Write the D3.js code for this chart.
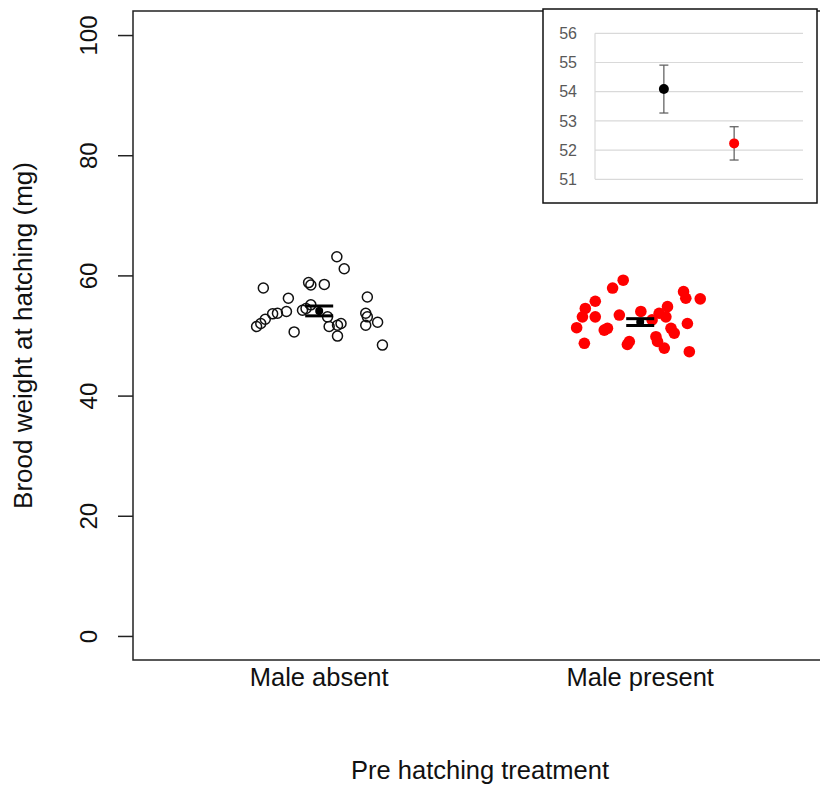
<!DOCTYPE html>
<html lang="en">
<head>
    <meta charset="UTF-8">
    <title>Brood weight at hatching</title>
    <script src="https://cdn.jsdelivr.net/npm/d3@7"></script>
    <style>
        body{
            margin:0;
            background-color:#ffffff;
        }
        text{
            font-family:"Liberation Sans", Arial, sans-serif;
        }
    </style>
</head>
<body>

<script type="text/javascript">

            // treatments
            var categories = ["Male absent", "Male present"];

            // brood weights (mg), male absent, with the jitter offset seen on the plot
            var absentValues = [63.1, 61.1, 57.9, 58.8, 58.4, 58.5, 56.2, 56.4, 54.0, 53.7,
                                53.6, 52.7, 52.0, 51.5, 50.6, 54.2, 54.5, 55.1, 53.7, 53.1,
                                51.7, 52.2, 53.1, 51.5, 52.0, 51.7, 49.9, 48.4];
            var absentJitter = [0.055, 0.078, -0.174, -0.033, -0.026, 0.016, -0.096, 0.150, -0.102, -0.130,
                                -0.145, -0.168, -0.182, -0.195, -0.078, -0.052, -0.041, -0.026, 0.145, 0.150,
                                0.145, 0.182, 0.026, 0.031, 0.068, 0.057, 0.057, 0.197];

            // brood weights (mg), male present
            var presentValues = [59.2, 57.9, 57.3, 56.2, 56.1, 55.7, 54.5, 53.1, 53.1, 53.4,
                                 51.3, 54.0, 54.8, 53.7, 53.1, 51.2, 50.9, 52.0, 51.2, 50.4,
                                 49.8, 49.0, 48.7, 49.0, 48.5, 47.9, 47.3, 52.6];
            var presentJitter = [-0.053, -0.086, 0.135, 0.142, 0.187, -0.140, -0.171, -0.180, -0.140, -0.065,
                                 -0.198, 0.002, 0.085, 0.059, 0.080, -0.102, -0.112, 0.147, 0.096, 0.106,
                                 0.049, 0.054, -0.174, -0.034, -0.040, 0.075, 0.153, 0.037];

            // group means and standard errors
            var means = [54.09, 52.23];
            var ses = [0.82, 0.57];

            var yTicks = [0, 20, 40, 60, 80, 100];
            var insetTicks = [51, 52, 53, 54, 55, 56];

            var w = 820;
            var h = 789;

            var svg = d3.select("body")
                        .append("svg")
                        .attr("width", w)
                        .attr("height", h);

            // main plot scales (box runs off the right edge like the original)
            var xScale = d3.scaleLinear()
                            .domain([0.42, 2.58])
                            .range([133, 826.4]);

            var yScale = d3.scaleLinear()
                            .domain([-4, 104])
                            .range([660, 11]);

            //box
            svg.append("rect")
               .attr("x", 133)
               .attr("y", 11)
               .attr("width", 720)
               .attr("height", 649)
               .attr("fill", "none")
               .attr("stroke", "#222")
               .attr("stroke-width", 1.5);

            //y axis
            var yAxis = svg.append("g")
                           .attr("transform", "translate(133,0)")
                           .call(d3.axisLeft(yScale).tickValues(yTicks).tickSize(15));
            yAxis.select(".domain").remove();
            yAxis.selectAll(".tick line")
                 .attr("stroke", "#222")
                 .attr("stroke-width", 1.5);
            yAxis.selectAll(".tick text")
                 .attr("x", null)
                 .attr("dy", null)
                 .attr("transform", "translate(-36,0) rotate(-90)")
                 .attr("text-anchor", "middle")
                 .attr("font-family", "Liberation Sans, Arial, sans-serif")
                 .attr("font-size", "24px")
                 .attr("fill", "#111");

            //category labels
            svg.selectAll(".catLabel")
               .data(categories)
               .enter()
               .append("text")
               .attr("class", "catLabel")
               .text(function(d) { return d; })
               .attr("x", function(d, i) { return xScale(i + 1); })
               .attr("y", 686)
               .attr("text-anchor", "middle")
               .attr("font-size", "25.5px")
               .attr("fill", "#111");

            //axis titles
            svg.append("text")
               .text("Pre hatching treatment")
               .attr("x", 480)
               .attr("y", 779)
               .attr("text-anchor", "middle")
               .attr("font-size", "25.5px")
               .attr("fill", "#111");

            svg.append("text")
               .text("Brood weight at hatching (mg)")
               .attr("transform", "translate(32," + ((11 + 660) / 2) + ") rotate(-90)")
               .attr("text-anchor", "middle")
               .attr("font-size", "26px")
               .attr("fill", "#111");

            //points, male absent (open circles)
            svg.selectAll(".absent")
               .data(absentValues)
               .enter()
               .append("circle")
               .attr("class", "absent")
               .attr("cx", function(d, i) { return xScale(1 + absentJitter[i]); })
               .attr("cy", function(d) { return yScale(d); })
               .attr("r", 5)
               .attr("fill", "none")
               .attr("stroke", "#111")
               .attr("stroke-width", 1.5);

            //points, male present (red dots)
            svg.selectAll(".present")
               .data(presentValues)
               .enter()
               .append("circle")
               .attr("class", "present")
               .attr("cx", function(d, i) { return xScale(2 + presentJitter[i]); })
               .attr("cy", function(d) { return yScale(d); })
               .attr("r", 5.8)
               .attr("fill", "#ff0000");

            //mean and se bars
            var meanG = svg.selectAll(".meanBar")
               .data(means)
               .enter()
               .append("g")
               .attr("class", "meanBar")
               .attr("transform", function(d, i) { return "translate(" + xScale(i + 1) + ",0)"; });

            meanG.append("line")
               .attr("x1", 0).attr("x2", 0)
               .attr("y1", function(d, i) { return yScale(d + ses[i]); })
               .attr("y2", function(d, i) { return yScale(d - ses[i]); })
               .attr("stroke", "#000")
               .attr("stroke-width", 3);
            meanG.append("line")
               .attr("x1", -14).attr("x2", 14)
               .attr("y1", function(d, i) { return yScale(d + ses[i]); })
               .attr("y2", function(d, i) { return yScale(d + ses[i]); })
               .attr("stroke", "#000")
               .attr("stroke-width", 3);
            meanG.append("line")
               .attr("x1", -14).attr("x2", 14)
               .attr("y1", function(d, i) { return yScale(d - ses[i]); })
               .attr("y2", function(d, i) { return yScale(d - ses[i]); })
               .attr("stroke", "#000")
               .attr("stroke-width", 3);
            meanG.append("circle")
               .attr("cx", 0)
               .attr("cy", function(d) { return yScale(d); })
               .attr("r", 4)
               .attr("fill", "#000");

            //inset
            var inset = svg.append("g");
            inset.append("rect")
               .attr("x", 543)
               .attr("y", 9)
               .attr("width", 274)
               .attr("height", 194)
               .attr("fill", "#fff")
               .attr("stroke", "#111")
               .attr("stroke-width", 1.5);

            var ix = d3.scalePoint()
                       .domain(categories)
                       .range([595, 803])
                       .padding(0.98);
            var iy = d3.scaleLinear()
                       .domain([51, 56])
                       .range([179.3, 33.3]);

            inset.selectAll(".grid")
               .data(insetTicks)
               .enter()
               .append("line")
               .attr("class", "grid")
               .attr("x1", 595).attr("x2", 803)
               .attr("y1", function(d) { return iy(d); })
               .attr("y2", function(d) { return iy(d); })
               .attr("stroke", "#d9d9d9")
               .attr("stroke-width", 1.2);
            inset.append("line")
               .attr("x1", 595).attr("x2", 595)
               .attr("y1", iy(56)).attr("y2", iy(51))
               .attr("stroke", "#d9d9d9")
               .attr("stroke-width", 1.2);

            inset.selectAll(".itick")
               .data(insetTicks)
               .enter()
               .append("text")
               .attr("class", "itick")
               .text(function(d) { return d; })
               .attr("x", 577)
               .attr("y", function(d) { return iy(d); })
               .attr("dy", "0.35em")
               .attr("text-anchor", "end")
               .attr("font-size", "16px")
               .attr("fill", "#595959");

            var insetColors = ["#000000", "#ff0000"];
            var ig = inset.selectAll(".ibar")
               .data(means)
               .enter()
               .append("g")
               .attr("class", "ibar")
               .attr("transform", function(d, i) { return "translate(" + ix(categories[i]) + ",0)"; });
            ig.append("line")
               .attr("x1", 0).attr("x2", 0)
               .attr("y1", function(d, i) { return iy(d + ses[i]); })
               .attr("y2", function(d, i) { return iy(d - ses[i]); })
               .attr("stroke", "#595959")
               .attr("stroke-width", 1.2);
            ig.append("line")
               .attr("x1", -4.5).attr("x2", 4.5)
               .attr("y1", function(d, i) { return iy(d + ses[i]); })
               .attr("y2", function(d, i) { return iy(d + ses[i]); })
               .attr("stroke", "#595959")
               .attr("stroke-width", 1.2);
            ig.append("line")
               .attr("x1", -4.5).attr("x2", 4.5)
               .attr("y1", function(d, i) { return iy(d - ses[i]); })
               .attr("y2", function(d, i) { return iy(d - ses[i]); })
               .attr("stroke", "#595959")
               .attr("stroke-width", 1.2);
            ig.append("circle")
               .attr("cx", 0)
               .attr("cy", function(d) { return iy(d); })
               .attr("r", 5)
               .attr("fill", function(d, i) { return insetColors[i]; });

</script>

</body>
</html>
